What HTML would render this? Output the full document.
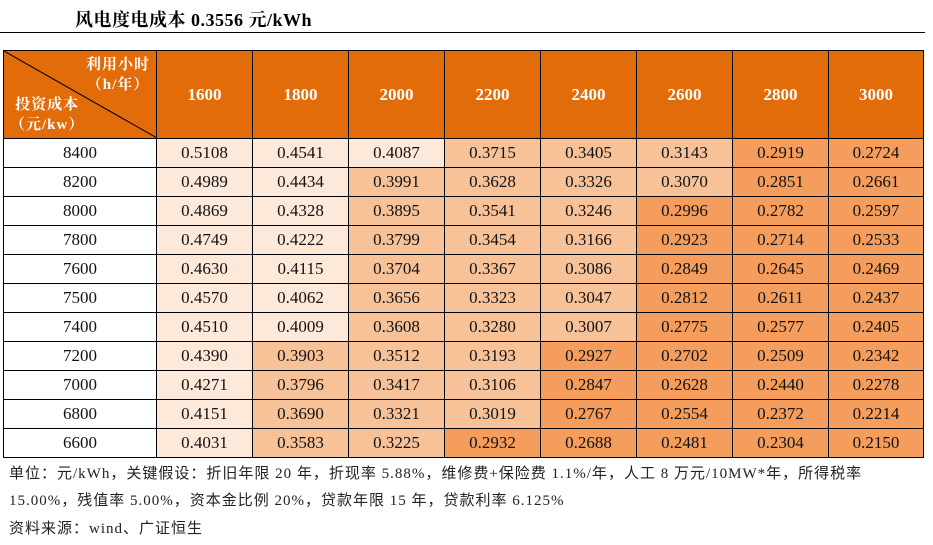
<!DOCTYPE html>
<html><head><meta charset="utf-8"><style>
body{margin:0;width:933px;height:545px;background:#fff;position:relative;overflow:hidden;font-family:"Liberation Serif","Noto Serif CJK SC",serif;}
.title{position:absolute;left:75px;top:6px;font-size:18px;letter-spacing:0.5px;font-weight:bold;color:#000;}
.hl{position:absolute;left:0;top:32px;width:925px;height:1px;background:#000;}
table{position:absolute;left:3px;top:50px;border-collapse:collapse;table-layout:fixed;}
td{border:1px solid #000;text-align:center;font-size:17px;height:28px;padding:0;color:#111;}
th{border:1px solid #000;background:#e36c0a;color:#fff;font-size:17px;height:87px;padding:0;}
.a{background:#fde9d9}.b{background:#f8c299}.c{background:#f59d5c}
.corner{position:relative;}
.note{position:absolute;left:9px;font-size:15px;letter-spacing:1px;color:#222;font-family:"Liberation Serif","Noto Sans CJK SC",serif;}
</style></head><body>
<div class="title">风电度电成本 0.3556 元/kWh</div>
<div class="hl"></div>
<table>
<colgroup><col style="width:153px"><col style="width:96px"><col style="width:96px"><col style="width:96px"><col style="width:96px"><col style="width:96px"><col style="width:96px"><col style="width:96px"><col style="width:95px"></colgroup>
<tr><th class="corner"><svg width="153" height="87" style="position:absolute;left:0;top:0"><line x1="0" y1="0" x2="153" y2="87" stroke="#000" stroke-width="1"/></svg>
<div style="position:absolute;right:6px;top:4px;font-size:15px;letter-spacing:1px;line-height:20px;text-align:center;">利用小时<br>（h/年）</div>
<div style="position:absolute;left:6px;top:44px;font-size:15px;letter-spacing:1px;line-height:20px;text-align:center;">投资成本<br>（元/kw）</div></th>
<th>1600</th><th>1800</th><th>2000</th><th>2200</th><th>2400</th><th>2600</th><th>2800</th><th>3000</th></tr>
<tr><td>8400</td><td class="a">0.5108</td><td class="a">0.4541</td><td class="a">0.4087</td><td class="b">0.3715</td><td class="b">0.3405</td><td class="b">0.3143</td><td class="c">0.2919</td><td class="c">0.2724</td></tr>
<tr><td>8200</td><td class="a">0.4989</td><td class="a">0.4434</td><td class="b">0.3991</td><td class="b">0.3628</td><td class="b">0.3326</td><td class="b">0.3070</td><td class="c">0.2851</td><td class="c">0.2661</td></tr>
<tr><td>8000</td><td class="a">0.4869</td><td class="a">0.4328</td><td class="b">0.3895</td><td class="b">0.3541</td><td class="b">0.3246</td><td class="c">0.2996</td><td class="c">0.2782</td><td class="c">0.2597</td></tr>
<tr><td>7800</td><td class="a">0.4749</td><td class="a">0.4222</td><td class="b">0.3799</td><td class="b">0.3454</td><td class="b">0.3166</td><td class="c">0.2923</td><td class="c">0.2714</td><td class="c">0.2533</td></tr>
<tr><td>7600</td><td class="a">0.4630</td><td class="a">0.4115</td><td class="b">0.3704</td><td class="b">0.3367</td><td class="b">0.3086</td><td class="c">0.2849</td><td class="c">0.2645</td><td class="c">0.2469</td></tr>
<tr><td>7500</td><td class="a">0.4570</td><td class="a">0.4062</td><td class="b">0.3656</td><td class="b">0.3323</td><td class="b">0.3047</td><td class="c">0.2812</td><td class="c">0.2611</td><td class="c">0.2437</td></tr>
<tr><td>7400</td><td class="a">0.4510</td><td class="a">0.4009</td><td class="b">0.3608</td><td class="b">0.3280</td><td class="b">0.3007</td><td class="c">0.2775</td><td class="c">0.2577</td><td class="c">0.2405</td></tr>
<tr><td>7200</td><td class="a">0.4390</td><td class="b">0.3903</td><td class="b">0.3512</td><td class="b">0.3193</td><td class="c">0.2927</td><td class="c">0.2702</td><td class="c">0.2509</td><td class="c">0.2342</td></tr>
<tr><td>7000</td><td class="a">0.4271</td><td class="b">0.3796</td><td class="b">0.3417</td><td class="b">0.3106</td><td class="c">0.2847</td><td class="c">0.2628</td><td class="c">0.2440</td><td class="c">0.2278</td></tr>
<tr><td>6800</td><td class="a">0.4151</td><td class="b">0.3690</td><td class="b">0.3321</td><td class="b">0.3019</td><td class="c">0.2767</td><td class="c">0.2554</td><td class="c">0.2372</td><td class="c">0.2214</td></tr>
<tr><td>6600</td><td class="a">0.4031</td><td class="b">0.3583</td><td class="b">0.3225</td><td class="c">0.2932</td><td class="c">0.2688</td><td class="c">0.2481</td><td class="c">0.2304</td><td class="c">0.2150</td></tr>
</table>
<div class="note" style="top:462px">单位：元/kWh，关键假设：折旧年限 20 年，折现率 5.88%，维修费+保险费 1.1%/年，人工 8 万元/10MW*年，所得税率</div>
<div class="note" style="top:489px">15.00%，残值率 5.00%，资本金比例 20%，贷款年限 15 年，贷款利率 6.125%</div>
<div class="note" style="top:517px">资料来源：wind、广证恒生</div>
</body></html>
